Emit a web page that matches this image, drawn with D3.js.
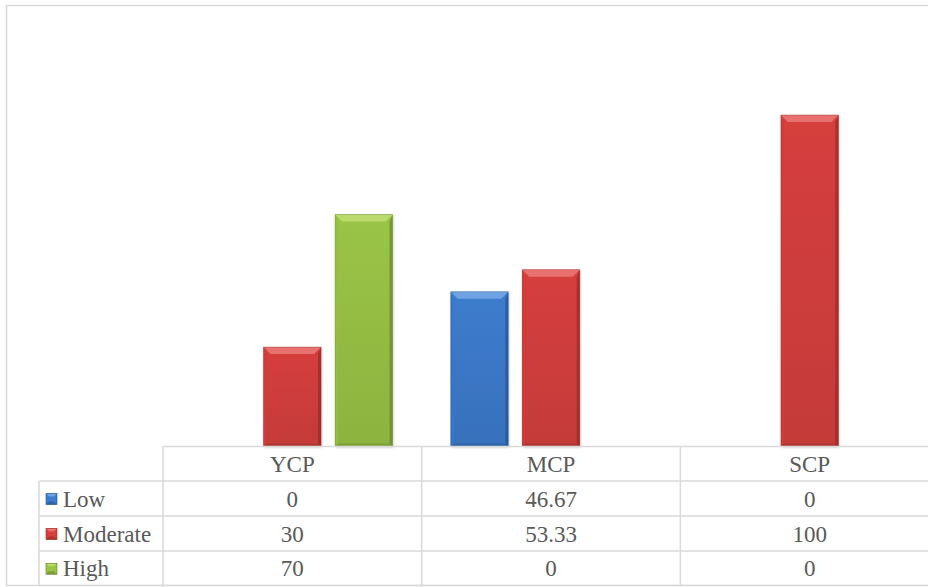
<!DOCTYPE html>
<html><head><meta charset="utf-8">
<script src="https://cdn.jsdelivr.net/npm/d3@7"></script>
<style>html,body{margin:0;padding:0;background:#fff;}svg{display:block;}</style>
</head><body>
<svg id="chart" width="928" height="587"></svg>
<script>
const categories = ["YCP", "MCP", "SCP"];
const seriesNames = ["Low", "Moderate", "High"];
const lowValues = [0, 46.67, 0];
const moderateValues = [30, 53.33, 100];
const highValues = [70, 0, 0];
const valueLabels = [["0", "46.67", "0"], ["30", "53.33", "100"], ["70", "0", "0"]];
const seriesValues = [lowValues, moderateValues, highValues];

const palette = {
  Low: {main: "#3d7ccd", light: "#6fa2e2", dark: "#24548f", side: "#3877c8"},
  Moderate: {main: "#d63f3e", light: "#e8716f", dark: "#962826", side: "#d03c3b"},
  High: {main: "#9ac446", light: "#bada6d", dark: "#66842a", side: "#94bd42"}
};

const svg = d3.select("#chart");
const defs = svg.append("defs");
seriesNames.forEach(s => {
  const c = palette[s];
  const g = defs.append("linearGradient").attr("id", "g-" + s).attr("x1", 0).attr("x2", 0).attr("y1", 0).attr("y2", 1);
  g.append("stop").attr("offset", "0%").attr("stop-color", c.main);
  g.append("stop").attr("offset", "100%").attr("stop-color", d3.color(c.main).darker(0.25));
});
const f = defs.append("filter").attr("id", "shadow").attr("x", "-20%").attr("y", "-20%").attr("width", "140%").attr("height", "140%");
f.append("feDropShadow").attr("dx", 1).attr("dy", 1).attr("stdDeviation", 1.2).attr("flood-color", "#000").attr("flood-opacity", 0.2);

const baseY = 446.5;
const tableLeft = 163, tableRight = 939, legendLeft = 39;
const rowEdges = [446.5, 481, 516, 551, 585.5];
const gridColor = "#d9d9d9";
const textColor = "#595959";
const fontFamily = '"Liberation Serif"';
const fontSize = "23px";

const x = d3.scaleBand().domain(categories).range([tableLeft, tableRight]).paddingInner(0).paddingOuter(0);
const xs = d3.scaleBand().domain(seriesNames).range([0, x.bandwidth()]).paddingInner(0.196).paddingOuter(0.407);
const y = d3.scaleLinear().domain([0, 100]).range([baseY, 115]);

svg.append("rect").attr("x", 6.5).attr("y", 5.5).attr("width", 960).attr("height", 580)
  .attr("fill", "none").attr("stroke", gridColor).attr("stroke-width", 1.5);

function bevelBar(g, bx, by, w, h, c, s, b) {
  g.append("rect").attr("x", bx).attr("y", by).attr("width", w).attr("height", h)
    .attr("fill", "url(#g-" + s + ")").attr("filter", "url(#shadow)");
  g.append("polygon").attr("points", [[bx, by], [bx + 3, by + b], [bx + 3, by + h - 3], [bx, by + h]].join(" "))
    .attr("fill", c.side).attr("opacity", 0.9);
  g.append("polygon").attr("points", [[bx + w, by], [bx + w - 3, by + b], [bx + w - 3, by + h - 3], [bx + w, by + h]].join(" "))
    .attr("fill", c.dark).attr("opacity", 0.7);
  g.append("polygon").attr("points", [[bx, by + h], [bx + 3, by + h - 3], [bx + w - 3, by + h - 3], [bx + w, by + h]].join(" "))
    .attr("fill", c.dark).attr("opacity", 0.4);
  g.append("polygon").attr("points", [[bx, by], [bx + w, by], [bx + w - b, by + b], [bx + b, by + b]].join(" "))
    .attr("fill", c.light);
  g.append("rect").attr("x", bx).attr("y", by).attr("width", w).attr("height", h)
    .attr("fill", "none").attr("stroke", c.dark).attr("stroke-opacity", 0.45).attr("stroke-width", 0.8);
}

const barsG = svg.append("g");
categories.forEach((cat, ci) => {
  seriesNames.forEach((s, si) => {
    const v = seriesValues[si][ci];
    if (v <= 0) return;
    const bx = x(cat) + xs(s);
    const by = y(v);
    bevelBar(barsG, bx, by, xs.bandwidth(), baseY - by, palette[s], s, 7);
  });
});

const tg = svg.append("g").attr("stroke", gridColor).attr("stroke-width", 1.5);
tg.append("line").attr("x1", tableLeft).attr("x2", 928).attr("y1", rowEdges[0]).attr("y2", rowEdges[0]);
for (let i = 1; i < rowEdges.length; i++) {
  tg.append("line").attr("x1", legendLeft).attr("x2", 928).attr("y1", rowEdges[i]).attr("y2", rowEdges[i]);
}
tg.append("line").attr("x1", legendLeft).attr("x2", legendLeft).attr("y1", rowEdges[1]).attr("y2", rowEdges[4]);
categories.forEach(cat => {
  tg.append("line").attr("x1", x(cat)).attr("x2", x(cat)).attr("y1", rowEdges[0]).attr("y2", rowEdges[4]);
});

function styleText(sel) {
  return sel.style("font-family", fontFamily).style("font-size", fontSize).attr("fill", textColor);
}

styleText(svg.append("g").selectAll("text").data(categories).join("text")
  .attr("x", d => x(d) + x.bandwidth() / 2)
  .attr("y", (rowEdges[0] + rowEdges[1]) / 2)
  .attr("dy", "0.35em").attr("text-anchor", "middle")
  .text(d => d));

seriesNames.forEach((s, si) => {
  const cy = (rowEdges[si + 1] + rowEdges[si + 2]) / 2;
  const c = palette[s];
  const k = 11, kx = 46, ky = cy - k / 2 + 0.5;
  const lg = svg.append("g");
  lg.append("rect").attr("x", kx).attr("y", ky).attr("width", k).attr("height", k).attr("fill", c.main);
  lg.append("polygon").attr("points", [[kx, ky], [kx + k, ky], [kx + k - 3, ky + 3], [kx + 3, ky + 3]].join(" ")).attr("fill", c.light);
  lg.append("polygon").attr("points", [[kx, ky + k], [kx + 3, ky + k - 3], [kx + k - 3, ky + k - 3], [kx + k, ky + k]].join(" ")).attr("fill", c.dark).attr("opacity", 0.6);
  lg.append("rect").attr("x", kx).attr("y", ky).attr("width", k).attr("height", k).attr("fill", "none").attr("stroke", c.dark).attr("stroke-width", 0.6);
  styleText(svg.append("text").attr("x", 63).attr("y", cy).attr("dy", "0.35em").text(s));
  styleText(svg.append("g").selectAll("text").data(categories).join("text")
    .attr("x", d => x(d) + x.bandwidth() / 2).attr("y", cy).attr("dy", "0.35em")
    .attr("text-anchor", "middle")
    .text((d, ci) => valueLabels[si][ci]));
});
</script>
</body></html>
